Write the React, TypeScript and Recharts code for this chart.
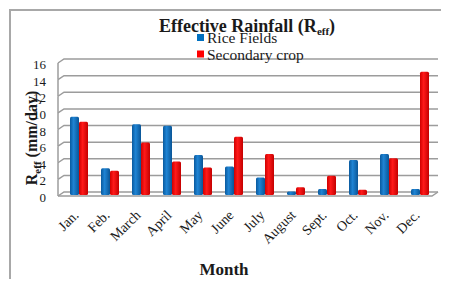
import React from 'react';
import { BarChart, Bar, XAxis, YAxis, CartesianGrid, Customized } from 'recharts';

const months = ['Jan.', 'Feb.', 'March', 'April', 'May', 'June', 'July', 'August', 'Sept.', 'Oct.', 'Nov.', 'Dec.'];
const riceFields = [9.3, 3.1, 8.4, 8.2, 4.7, 3.3, 2.0, 0.3, 0.6, 4.1, 4.8, 0.6];
const secondaryCrop = [8.7, 2.8, 6.2, 3.9, 3.2, 6.9, 4.8, 0.8, 2.2, 0.5, 4.3, 14.7];
const yTicks = [0, 2, 4, 6, 8, 10, 12, 14, 16];
const seriesNames = ['Rice Fields', 'Secondary crop'];
const seriesColors = ['#0070C0', '#FF0000'];

const data = months.map((m, i) => ({ month: m, rice: riceFields[i], secondary: secondaryCrop[i] }));

const W = 449;
const H = 287;
const PLOT_TOP = 61;
const PLOT_BOTTOM = 194;
const STEP = (PLOT_BOTTOM - PLOT_TOP) / (yTicks.length - 1);
const FONT = '"Liberation Serif", "Times New Roman", "DejaVu Serif", serif';
const GRID = '#9c9c9c';

const GridLine = (props: any) => {
  const { x1, y1, x2 } = props;
  const isFloor = Math.abs(y1 - PLOT_BOTTOM) < 0.5;
  if (isFloor) {
    return (
      <g key={props.key}>
        <path d={`M${x1 - 5},${y1 + 2} L${x1 + 1},${y1 - 2} L${x2 + 3},${y1 - 2}`} stroke={GRID} strokeWidth={1.5} fill="none" />
        <path d={`M${x1 - 5},${y1 + 2} L${x2 - 3},${y1 + 2} L${x2 + 3},${y1 - 2}`} stroke={GRID} strokeWidth={1.5} fill="none" />
      </g>
    );
  }
  return (
    <g key={props.key}>
      <path d={`M${x1 - 5},${y1 + 2} L${x1 + 1},${y1 - 2} L${x2 + 3},${y1 - 2}`} stroke={GRID} strokeWidth={1.5} fill="none" />
      <path d={`M${x1 - 5},${y1 + 2} L${x1 - 5},${y1 + 2 + STEP}`} stroke={GRID} strokeWidth={1.5} fill="none" />
    </g>
  );
};

const makeShape = (gradId: string) => (props: any) => {
  const { x, y, width, height } = props;
  if (!height || height <= 0) return <g />;
  return <rect x={x} y={y} width={width} height={height + 1} rx={1.5} fill={`url(#${gradId})`} />;
};

const XTick = (props: any) => {
  const { x, y, payload } = props;
  return (
    <g transform={`translate(${x + 1},${y + 22})`}>
      <text transform="rotate(-45)" textAnchor="end" fontSize={14} fontFamily={FONT} fill="#1a1a1a">
        {payload.value}
      </text>
    </g>
  );
};

const YTick = (props: any) => {
  const { x, y, payload } = props;
  return (
    <text x={x - 17} y={y + 8} textAnchor="end" fontSize={13} fontFamily={FONT} fill="#1a1a1a">
      {payload.value}
    </text>
  );
};

const Decor = () => (
  <g fontFamily={FONT} fill="#1a1a1a">
    <defs>
      <linearGradient id="gBlue" x1="0" y1="0" x2="1" y2="0">
        <stop offset="0%" stopColor="#0a5a9e" />
        <stop offset="40%" stopColor="#1f84d4" />
        <stop offset="100%" stopColor="#0a5596" />
      </linearGradient>
      <linearGradient id="gRed" x1="0" y1="0" x2="1" y2="0">
        <stop offset="0%" stopColor="#d00000" />
        <stop offset="40%" stopColor="#ff1a1a" />
        <stop offset="100%" stopColor="#c40000" />
      </linearGradient>
    </defs>
    <text x={247} y={32} textAnchor="middle" fontSize={18} fontWeight="bold" fontFamily={FONT}>
      Effective Rainfall (R<tspan fontSize={11} dy={3}>eff</tspan><tspan dy={-3}>)</tspan>
    </text>
    <rect x={197} y={34} width={7} height={7} fill={seriesColors[0]} />
    <text x={207} y={43} fontSize={15.5} fontFamily={FONT}>{seriesNames[0]}</text>
    <rect x={197} y={50.5} width={7} height={7} fill={seriesColors[1]} />
    <text x={207} y={60} fontSize={15.5} fontFamily={FONT}>{seriesNames[1]}</text>
    <text transform="rotate(-90)" x={-138} y={37} textAnchor="middle" fontSize={16} fontWeight="bold" fontFamily={FONT}>
      R<tspan fontSize={11} dy={4}>eff</tspan><tspan dy={-4}> (mm/day)</tspan>
    </text>
    <text x={224} y={275} textAnchor="middle" fontSize={17} fontWeight="bold" fontFamily={FONT}>Month</text>
  </g>
);

export default function App() {
  return (
    <div style={{ position: 'relative', width: W, height: H, margin: -8, overflow: 'hidden', background: '#fff' }}>
      <div
        style={{
          position: 'absolute',
          left: 9,
          top: 9,
          width: 600,
          height: 600,
          borderLeft: '2px solid #a8a8a8',
          borderTop: '2px solid #a8a8a8',
        }}
      />
      <div style={{ position: 'absolute', left: 0, top: 0 }}>
        <BarChart
          width={W}
          height={H}
          data={data}
          margin={{ top: PLOT_TOP, right: 14, left: 0, bottom: 0 }}
          barGap={0}
          barSize={9}
        >
          <Customized component={Decor} />
          <CartesianGrid vertical={false} horizontal={GridLine} />
          <XAxis
            dataKey="month"
            height={H - PLOT_BOTTOM}
            axisLine={false}
            tickLine={false}
            tickSize={0}
            tickMargin={0}
            interval={0}
            tick={XTick}
          />
          <YAxis
            width={63}
            domain={[0, 16]}
            ticks={yTicks}
            interval={0}
            axisLine={false}
            tickLine={false}
            tickSize={0}
            tickMargin={0}
            tick={YTick}
          />
          <Bar dataKey="rice" name={seriesNames[0]} fill={seriesColors[0]} shape={makeShape('gBlue')} isAnimationActive={false} />
          <Bar dataKey="secondary" name={seriesNames[1]} fill={seriesColors[1]} shape={makeShape('gRed')} isAnimationActive={false} />
        </BarChart>
      </div>
    </div>
  );
}
